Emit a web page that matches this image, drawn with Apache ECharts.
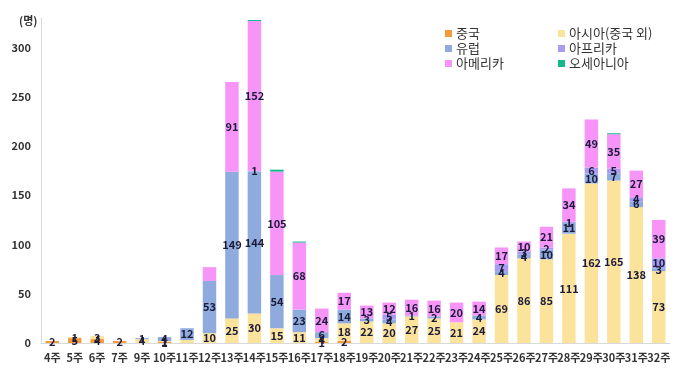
<!DOCTYPE html>
<html>
<head>
<meta charset="utf-8">
<script src="https://cdn.jsdelivr.net/npm/echarts@6/dist/echarts.min.js"></script>
<style>
  html, body { margin: 0; padding: 0; background: #fff; }
  #chart { width: 680px; height: 377px; }
</style>
</head>
<body>
<div id="chart"></div>
<script>
// 8주 is not in the source chart
var weeks = ['4주','5주','6주','7주','9주','10주','11주','12주','13주','14주','15주','16주','17주','18주',
             '19주','20주','21주','22주','23주','24주','25주','26주','27주','28주','29주','30주','31주','32주'];
var china    = [2, 5, 4, 2, 0, 1, 0, 0, 0, 0, 0, 0, 1, 2, 0, 0, 0, 0, 0, 0, 0, 0, 0, 0, 0, 0, 0, 0];
var asia     = [0, 1, 3, 0, 4, 1, 3, 10, 25, 30, 15, 11, 4, 18, 22, 20, 27, 25, 21, 24, 69, 86, 85, 111, 162, 165, 138, 73];
var europe   = [0, 0, 0, 0, 1, 4, 12, 53, 149, 144, 54, 23, 6, 14, 3, 4, 1, 2, 0, 4, 4, 4, 10, 11, 10, 7, 6, 3];
var africa   = [0, 0, 0, 0, 0, 0, 0, 0, 0, 1, 0, 0, 0, 0, 0, 5, 0, 0, 0, 0, 7, 3, 2, 1, 6, 5, 4, 10];
var america  = [0, 0, 0, 0, 0, 0, 0, 14, 91, 152, 105, 68, 24, 17, 13, 12, 16, 16, 20, 14, 17, 10, 21, 34, 49, 35, 27, 39];
var oceania  = [0, 0, 0, 0, 0, 0, 0, 0, 0, 1, 2, 1, 0, 0, 0, 0, 0, 0, 0, 0, 0, 0, 0, 0, 0, 1, 0, 0];

// values the source chart leaves without a label
var noLabel = { '아시아(중국 외)': ['11주'], '아메리카': ['12주'], '오세아니아': weeks };

var font = 'Noto Sans CJK KR';

function bar(name, data, color) {
    var skip = noLabel[name] || [];
    return {
        name: name,
        type: 'bar',
        stack: 'total',
        barWidth: '60%',
        data: data,
        itemStyle: { color: color },
        label: {
            show: true,
            position: 'inside',
            color: '#1b1b3a',
            fontWeight: 'bold',
            fontSize: 11,
            fontFamily: font,
            formatter: function (p) {
                if (!p.value || skip.indexOf(p.name) >= 0) return '';
                return p.value;
            }
        }
    };
}

var legendText = { fontSize: 13, color: '#333', fontFamily: font, padding: [0, 0, 0, -1] };

var myChart = echarts.init(document.getElementById('chart'));
myChart.setOption({
    animation: false,
    textStyle: { fontFamily: font },
    title: {
        text: '(명)',
        left: 14,
        top: 10,
        textStyle: { fontSize: 11, fontWeight: 'bold', color: '#333', fontFamily: font }
    },
    legend: [
        {
            orient: 'vertical',
            left: 440,
            top: 22,
            itemWidth: 7,
            itemHeight: 7,
            itemGap: 2,
            icon: 'rect',
            textStyle: legendText,
            data: ['중국', '유럽', '아메리카']
        },
        {
            orient: 'vertical',
            left: 553,
            top: 22,
            itemWidth: 7,
            itemHeight: 7,
            itemGap: 2,
            icon: 'rect',
            textStyle: legendText,
            data: ['아시아(중국 외)', '아프리카', '오세아니아']
        }
    ],
    grid: { left: 41, right: 10, top: 18, bottom: 34 },
    xAxis: {
        type: 'category',
        data: weeks,
        axisLine: { lineStyle: { color: '#d9d9d9' } },
        axisTick: { show: false },
        axisLabel: { interval: 0, color: '#333', fontSize: 11, fontWeight: 'bold', margin: 9, fontFamily: font }
    },
    yAxis: {
        type: 'value',
        min: 0,
        max: 330,
        interval: 50,
        axisLine: { show: true, lineStyle: { color: '#d9d9d9' } },
        axisTick: { show: false },
        splitLine: { show: false },
        axisLabel: { color: '#333', fontSize: 11, fontWeight: 'bold', margin: 10, showMaxLabel: false, fontFamily: font }
    },
    series: [
        bar('중국', china, '#f59a3c'),
        bar('아시아(중국 외)', asia, '#fce39c'),
        bar('유럽', europe, '#8faadc'),
        bar('아프리카', africa, '#a99cf0'),
        bar('아메리카', america, '#f794f7'),
        bar('오세아니아', oceania, '#14b88a')
    ]
});
</script>
</body>
</html>
